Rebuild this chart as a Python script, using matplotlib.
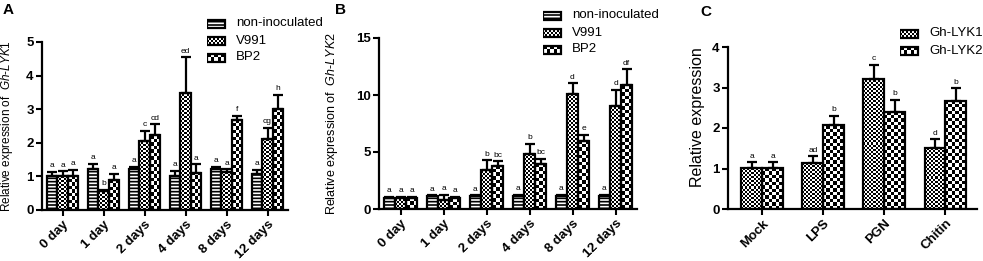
import matplotlib
matplotlib.use('Agg')
import matplotlib.pyplot as plt
import numpy as np
from matplotlib.patches import Rectangle

plt.rcParams['font.family'] = ['Liberation Sans', 'DejaVu Sans']
plt.rcParams['mathtext.fontset'] = 'custom'
plt.rcParams['mathtext.it'] = 'Liberation Sans:italic'
plt.rcParams['mathtext.rm'] = 'Liberation Sans'
plt.rcParams['hatch.linewidth'] = 1.2

W, H = 983, 261

days = ['0 day', '1 day', '2 days', '4 days', '8 days', '12 days']
treatments = ['Mock', 'LPS', 'PGN', 'Chitin']
series_ab = ['non-inoculated', 'V991', 'BP2']
series_c = ['Gh-LYK1', 'Gh-LYK2']

# panel A: Gh-LYK1
a_non = [1.02, 1.21, 1.21, 1.02, 1.21, 1.07]
a_non_err = [0.12, 0.16, 0.08, 0.14, 0.08, 0.12]
a_v991 = [1.0, 0.57, 2.06, 3.49, 1.12, 2.1]
a_v991_err = [0.15, 0.04, 0.29, 1.05, 0.09, 0.35]
a_bp2 = [1.02, 0.89, 2.23, 1.11, 2.69, 3.02]
a_bp2_err = [0.17, 0.18, 0.32, 0.25, 0.12, 0.4]
a_non_let = ['a', 'a', 'a', 'a', 'a', 'a']
a_v991_let = ['a', 'b', 'c', 'ed', 'a', 'cg']
a_bp2_let = ['a', 'a', 'cd', 'a', 'f', 'h']

# panel B: Gh-LYK2
b_non = [0.99, 1.1, 1.1, 1.17, 1.17, 1.17]
b_non_err = [0.1, 0.1, 0.1, 0.1, 0.1, 0.1]
b_v991 = [0.99, 0.82, 3.44, 4.81, 10.06, 9.04]
b_v991_err = [0.1, 0.43, 0.82, 0.88, 0.96, 1.4]
b_bp2 = [0.99, 0.96, 3.79, 3.94, 5.98, 10.87]
b_bp2_err = [0.1, 0.1, 0.38, 0.47, 0.52, 1.37]
b_non_let = ['a', 'a', 'a', 'a', 'a', 'a']
b_v991_let = ['a', 'a', 'b', 'b', 'd', 'd']
b_bp2_let = ['a', 'a', 'bc', 'bc', 'e', 'df']

# panel C
c_lyk1 = [1.01, 1.13, 3.22, 1.5]
c_lyk1_err = [0.14, 0.17, 0.33, 0.22]
c_lyk2 = [1.01, 2.07, 2.4, 2.67]
c_lyk2_err = [0.14, 0.23, 0.3, 0.31]
c_lyk1_let = ['a', 'ad', 'c', 'd']
c_lyk2_let = ['a', 'b', 'b', 'b']

FINE, COARSE = 2.0, 3.5   # checker cell sizes in pixels

fig = plt.figure(figsize=(W / 100, H / 100), dpi=100)


def px_axes(left, right, top, bottom):
    return fig.add_axes([left / W, 1 - bottom / H, (right - left) / W, (bottom - top) / H])


def checker(ax, x, y, w, h, cell, zorder=2):
    (x0, y0), (x1, y1) = ax.transData.transform([(x, y), (x + w, y + h)])
    nx = max(1, int(round(abs(x1 - x0) / cell)))
    ny = max(1, int(round(abs(y1 - y0) / cell)))
    img = np.indices((ny, nx)).sum(axis=0) % 2
    ax.imshow(img, cmap='gray', vmin=0, vmax=1, extent=(x, x + w, y, y + h),
              origin='lower', interpolation='nearest', aspect='auto', zorder=zorder)


def bars(ax, x, vals, errs, letters, width, fill):
    if fill == 'lines':
        b = ax.bar(x, vals, width, facecolor='white', edgecolor='black', lw=1.6,
                   hatch='-----', zorder=3)
    else:
        b = ax.bar(x, vals, width, facecolor='none', edgecolor='black', lw=1.6, zorder=3)
        for r in b:
            checker(ax, r.get_x(), 0, r.get_width(), r.get_height(), fill)
    ax.errorbar(x, vals, yerr=[np.zeros(len(vals)), errs], fmt='none', ecolor='black',
                elinewidth=1.6, capsize=3.3, capthick=1.6, zorder=4)
    for xi, v, e, t in zip(x, vals, errs, letters):
        ax.annotate(t, (xi, v + e), xytext=(0, 2), textcoords='offset points',
                    ha='center', va='bottom', fontsize=6)


def style(ax, labels, xlim, ylim, yticks):
    ax.set_xlim(*xlim)
    ax.set_ylim(*ylim)
    ax.set_yticks(yticks)
    ax.set_xticks(range(len(labels)))
    ax.set_xticklabels(labels, rotation=45, ha='right', rotation_mode='anchor',
                       fontsize=9.5, fontweight='bold')
    for t in ax.get_yticklabels():
        t.set_fontsize(9.5)
        t.set_fontweight('bold')
    for s in ['top', 'right']:
        ax.spines[s].set_visible(False)
    for s in ['left', 'bottom']:
        ax.spines[s].set_linewidth(1.6)
    ax.tick_params(width=1.5, length=4, pad=2)


def legend(left, top, labels, fills, row=17):
    # small pixel-unit axes holding the legend
    lax = px_axes(left, left + 130, top, top + row * len(labels))
    lax.axis('off')
    for i, (lab, f) in enumerate(zip(labels, fills)):
        yc = row * i + row / 2
        if f == 'lines':
            lax.add_patch(Rectangle((0, yc - 4), 18, 8, facecolor='white', edgecolor='black',
                                    lw=1.6, hatch='-----', zorder=3))
        else:
            lax.add_patch(Rectangle((0, yc - 4), 18, 8, facecolor='none', edgecolor='black',
                                    lw=1.6, zorder=3))
            ny, nx = int(round(8 / f)), int(round(18 / f))
            img = np.indices((ny, nx)).sum(axis=0) % 2
            lax.imshow(img, cmap='gray', vmin=0, vmax=1, extent=(0, 18, yc + 4, yc - 4),
                       interpolation='nearest', aspect='auto', zorder=2)
        lax.text(29, yc, lab, va='center', ha='left', fontsize=9.5)
    lax.set_xlim(0, 130)
    lax.set_ylim(row * len(labels), 0)


# ---- A ----
axA = px_axes(42, 288, 42, 210)
axA.set_xlim(-0.5, 5.5)
axA.set_ylim(0, 5)
x = np.arange(len(days))
bw = 0.26
bars(axA, x - bw, a_non, a_non_err, a_non_let, bw, 'lines')
bars(axA, x, a_v991, a_v991_err, a_v991_let, bw, FINE)
bars(axA, x + bw, a_bp2, a_bp2_err, a_bp2_let, bw, COARSE)
style(axA, days, (-0.5, 5.5), (0, 5), range(6))
axA.set_ylabel('Relative expression of  $\\it{Gh}$-$\\it{LYK1}$', fontsize=8.5)
axA.yaxis.set_label_coords(-0.11, 0.5)
legend(207, 15, series_ab, ['lines', FINE, COARSE])

# ---- B ----
axB = px_axes(379, 637, 38, 209)
axB.set_xlim(-0.5, 5.5)
axB.set_ylim(0, 15)
bars(axB, x - bw, b_non, b_non_err, b_non_let, bw, 'lines')
bars(axB, x, b_v991, b_v991_err, b_v991_let, bw, FINE)
bars(axB, x + bw, b_bp2, b_bp2_err, b_bp2_let, bw, COARSE)
style(axB, days, (-0.5, 5.5), (0, 15), [0, 5, 10, 15])
axB.set_ylabel('Relative expression of  $\\it{Gh}$-$\\it{LYK2}$', fontsize=9)
axB.yaxis.set_label_coords(-0.15, 0.5)
legend(543, 7, series_ab, ['lines', FINE, COARSE])

# ---- C ----
axC = px_axes(728, 977, 47, 209)
axC.set_xlim(-0.56, 3.52)
axC.set_ylim(0, 4)
xc = np.arange(len(treatments))
cw = 0.34
bars(axC, xc - cw / 2, c_lyk1, c_lyk1_err, c_lyk1_let, cw, FINE)
bars(axC, xc + cw / 2, c_lyk2, c_lyk2_err, c_lyk2_let, cw, COARSE)
style(axC, treatments, (-0.56, 3.52), (0, 4), range(5))
axC.set_ylabel('Relative expression', fontsize=11.5)
axC.yaxis.set_label_coords(-0.093, 0.57)
legend(900, 25, series_c, [FINE, COARSE])

for lab, px, py in [('A', 3, 3), ('B', 335, 3), ('C', 700, 5)]:
    fig.text(px / W, 1 - py / H, lab, fontsize=11, fontweight='bold', va='top', ha='left')

fig.savefig('out.png', dpi=100)
